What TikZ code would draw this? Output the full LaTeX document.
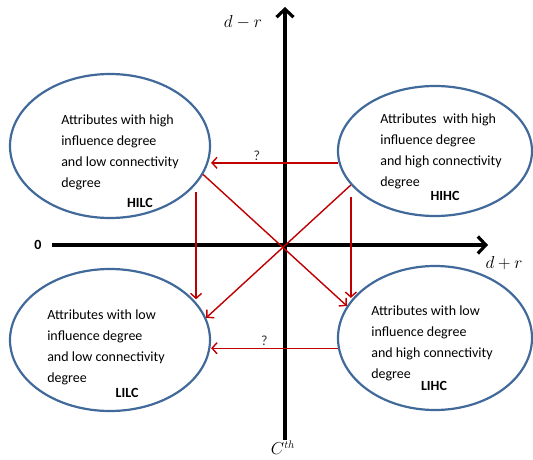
\documentclass[tikz,border=0pt]{standalone}
\usepackage{fontspec}
\setmainfont{Carlito}
\usetikzlibrary{arrows.meta, positioning, shapes.geometric}
\definecolor{ovalblue}{HTML}{41699A}
\definecolor{arrred}{HTML}{C00000}

\begin{document}
\begin{tikzpicture}[
  x=1pt, y=1pt,
  oval/.style={draw=ovalblue, line width=2.2pt, ellipse, inner sep=0pt},
  ovaltext/.style={align=left, font=\fontsize{14}{21}\selectfont},
  tag/.style={font=\fontsize{14}{16}\selectfont\bfseries},
  axis/.style={line width=3.6pt, -{Straight Barb[length=8pt, width=17pt, line width=3.2pt]}},
  arr/.style={arrred, line width=1.4pt, -{Straight Barb[length=5pt, width=11pt, line width=1.4pt]}},
  lbl/.style={font=\fontsize{18}{20}\selectfont},
  qm/.style={font=\fontsize{14}{16}\selectfont, text=black!80, inner sep=2pt}
]
\useasboundingbox (0,0) rectangle (533,459);
% axes
\coordinate (xstart) at (52,214);
\coordinate (xend) at (488,214);
\coordinate (ystart) at (285,19);
\coordinate (yend) at (285,452);
\draw[axis] (xstart) -- (xend);
\draw[axis] (ystart) -- (yend);
\node[font=\fontsize{14}{16}\selectfont\bfseries] (zero) at (38,214) {0};
\node[lbl] (dmr) at (243,437) {$d-r$};
\node[lbl] (dpr) at (504,196) {$d+r$};
\node[font=\fontsize{16}{18}\selectfont] (cth) at (283,11) {$C^{th}$};
% the four groups
\node[oval, minimum width=200pt, minimum height=144pt,
      label={[ovaltext, xshift=10pt, yshift=-6pt]center:Attributes with high\\influence degree\\and low connectivity\\degree}]
  (hilc) at (110,313) {};
\node[oval, minimum width=194pt, minimum height=130pt,
      label={[ovaltext, xshift=6pt]center:Attributes\ \ with high\\influence degree\\and high connectivity\\degree}]
  (hihc) at (435,308) {};
\node[oval, minimum width=200pt, minimum height=142pt,
      label={[ovaltext, xshift=-4pt, yshift=-7pt]center:Attributes with low\\influence degree\\and low connectivity\\degree}]
  (lilc) at (110,119) {};
\node[oval, minimum width=194pt, minimum height=144pt,
      label={[ovaltext, xshift=-3pt, yshift=-5pt]center:Attributes with low\\influence degree\\and high connectivity\\degree}]
  (lihc) at (435,121) {};
\node[tag] at ([shift={(30,-57)}]hilc.center) {HILC};
\node[tag] at ([shift={(10,-45)}]hihc.center) {HIHC};
\node[tag] at ([shift={(17,-53)}]lilc.center) {LILC};
\node[tag] at ([shift={(-1,-48)}]lihc.center) {LIHC};
% transitions
\draw[arr] (hihc.187) -- (hihc.187 -| hilc.east) node[qm, pos=0.64, above] {?};
\draw[arr] (lihc.186) -- (lihc.186 -| lilc.east) node[qm, pos=0.58, above] {?};
\draw[arr, shorten <=8pt] (hilc.336) -- (hilc.336 |- lilc.26);
\draw[arr, shorten <=12pt] (hihc.202) -- (hihc.202 |- lihc.154);
\draw[arr] (hilc.343) -- (lihc.160);
\draw[arr] (hihc.202) -- (lilc.13);
\end{tikzpicture}
\end{document}
